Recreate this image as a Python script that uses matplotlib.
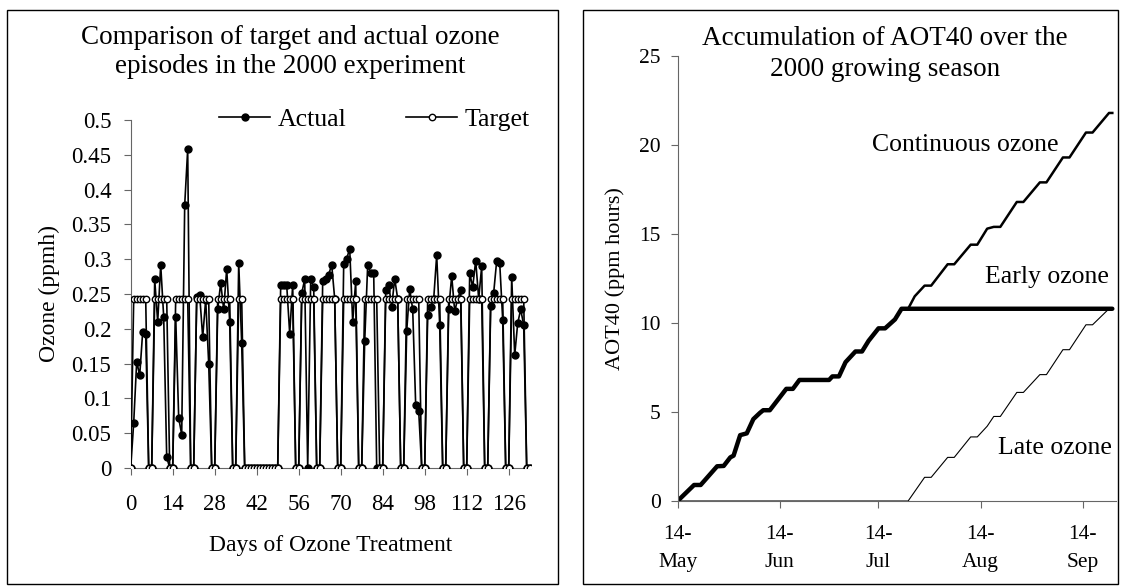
import numpy as np
import matplotlib.pyplot as plt
from matplotlib.patches import Rectangle
from matplotlib.ticker import FormatStrFormatter

plt.rcParams['font.family'] = ['Liberation Serif', 'DejaVu Serif']

W, H = 1122, 588

# ---- left panel: daily ozone (ppm h), days 0..133, one row per week ----
actual = [
    0, 0.065, 0.153, 0.133, 0.196, 0.193, 0,
    0, 0.271, 0.210, 0.292, 0.217, 0.016, 0,
    0, 0.217, 0.072, 0.048, 0.378, 0.458, 0,
    0, 0.245, 0.248, 0.188, 0.242, 0.150, 0,
    0, 0.228, 0.266, 0.228, 0.286, 0.210, 0,
    0, 0.295, 0.179, 0, 0, 0, 0,
    0, 0, 0, 0, 0, 0, 0,
    0, 0.263, 0.263, 0.263, 0.193, 0.263, 0,
    0, 0.251, 0.271, 0, 0.271, 0.260, 0,
    0, 0.268, 0.272, 0.278, 0.292, 0.243, 0,
    0, 0.293, 0.301, 0.315, 0.210, 0.268, 0,
    0, 0.182, 0.292, 0.280, 0.280, 0, 0,
    0, 0.256, 0.263, 0.232, 0.272, 0.243, 0,
    0, 0.197, 0.257, 0.228, 0.090, 0.082, 0,
    0, 0.220, 0.232, 0.243, 0.306, 0.205, 0,
    0, 0.228, 0.276, 0.225, 0.243, 0.256, 0,
    0, 0.280, 0.260, 0.298, 0.243, 0.290, 0,
    0, 0.233, 0.252, 0.298, 0.295, 0.213, 0,
    0, 0.275, 0.162, 0.208, 0.228, 0.205, 0,
    0,
]
target = [
    0, 0.243, 0.243, 0.243, 0.243, 0.243, 0,
    0, 0.243, 0.243, 0.243, 0.243, 0.243, 0,
    0, 0.243, 0.243, 0.243, 0.243, 0.243, 0,
    0, 0.243, 0.243, 0.243, 0.243, 0.243, 0,
    0, 0.243, 0.243, 0.243, 0.243, 0.243, 0,
    0, 0.243, 0.243, 0, 0, 0, 0,
    0, 0, 0, 0, 0, 0, 0,
    0, 0.243, 0.243, 0.243, 0.243, 0.243, 0,
    0, 0.243, 0.243, 0.243, 0.243, 0.243, 0,
    0, 0.243, 0.243, 0.243, 0.243, 0.243, 0,
    0, 0.243, 0.243, 0.243, 0.243, 0.243, 0,
    0, 0.243, 0.243, 0.243, 0.243, 0.243, 0,
    0, 0.243, 0.243, 0.243, 0.243, 0.243, 0,
    0, 0.243, 0.243, 0.243, 0.243, 0.243, 0,
    0, 0.243, 0.243, 0.243, 0.243, 0.243, 0,
    0, 0.243, 0.243, 0.243, 0.243, 0.243, 0,
    0, 0.243, 0.243, 0.243, 0.243, 0.243, 0,
    0, 0.243, 0.243, 0.243, 0.243, 0.243, 0,
    0, 0.243, 0.243, 0.243, 0.243, 0.243, 0,
    0,
]
day_ticks = [0, 14, 28, 42, 56, 70, 84, 98, 112, 126]

# ---- right panel: cumulative AOT40 (ppm hours), days after 14 May ----
cont_day = [0, 5, 7, 12, 14, 16, 17, 19, 21, 23, 25, 26, 28, 33, 35, 37, 46, 47,
            49, 51, 54, 56, 58, 61, 63, 66, 68, 70, 72, 75, 77, 82, 84, 89, 91,
            94, 96, 98, 103, 105, 110, 112, 117, 119, 124, 126, 131, 132]
cont_val = [0, 0.9, 0.9, 1.95, 1.97, 2.45, 2.55, 3.7, 3.8, 4.6, 4.95, 5.1, 5.1,
            6.3, 6.3, 6.8, 6.8, 7.0, 7.0, 7.8, 8.4, 8.4, 9.0, 9.7, 9.7, 10.2,
            10.8, 10.8, 11.5, 12.1, 12.1, 13.3, 13.3, 14.4, 14.4, 15.3, 15.4,
            15.4, 16.8, 16.8, 17.9, 17.9, 19.3, 19.3, 20.7, 20.7, 21.8, 21.8]
early_day = [0, 5, 7, 12, 14, 16, 17, 19, 21, 23, 25, 26, 28, 33, 35, 37, 46, 47,
             49, 51, 54, 56, 58, 61, 63, 66, 68, 132]
early_val = [0, 0.9, 0.9, 1.95, 1.97, 2.45, 2.55, 3.7, 3.8, 4.6, 4.95, 5.1, 5.1,
             6.3, 6.3, 6.8, 6.8, 7.0, 7.0, 7.8, 8.4, 8.4, 9.0, 9.7, 9.7, 10.2,
             10.8, 10.8]
late_day = [0, 70, 75, 77, 82, 84, 89, 91, 94, 96, 98, 103, 105, 110, 112, 117,
            119, 124, 126, 131, 132]
late_val = [0, 0, 1.33, 1.33, 2.45, 2.45, 3.6, 3.6, 4.2, 4.75, 4.75, 6.1, 6.1,
            7.1, 7.1, 8.5, 8.5, 9.9, 9.9, 10.8, 10.8]
month_ticks = [0, 31, 61, 92, 123]
month_labels = ['14-\nMay', '14-\nJun', '14-\nJul', '14-\nAug', '14-\nSep']


def fx(x):
    return x / W


def fy(y):
    return 1 - y / H


fig = plt.figure(figsize=(W / 100, H / 100), dpi=100)

# panel frames
for x0, x1 in [(7, 558), (583, 1118)]:
    fig.add_artist(Rectangle((fx(x0), fy(584)), fx(x1 - x0), (584 - 10) / H,
                             transform=fig.transFigure, fill=False,
                             edgecolor='black', linewidth=1.0))

axis_col = '#666666'

# ---------------- left ----------------
ax1 = fig.add_axes([fx(130.7), fy(468), fx(400.5), (468 - 120) / H])
days = np.arange(len(actual))
ax1.plot(days, actual, color='black', lw=1.2, marker='o', ms=5,
         mfc='black', mec='black', label='Actual', zorder=3)
ax1.plot(days, target, color='black', lw=1.2, marker='o', ms=4.6,
         mfc='white', mec='black', mew=1.0, label='Target', zorder=4)
ax1.set_xlim(0, 133.5)
ax1.set_ylim(0, 0.5)
ax1.set_xticks(day_ticks)
ax1.set_yticks(np.linspace(0, 0.5, 11))
ax1.yaxis.set_major_formatter(FormatStrFormatter('%g'))
ax1.set_xlabel('Days of Ozone Treatment', fontsize=17, labelpad=14)
ax1.set_ylabel('Ozone (ppmh)', fontsize=17, labelpad=8)
ax1.tick_params(axis='both', direction='out', length=5, width=0.8,
                color=axis_col, labelsize=16.5)
ax1.tick_params(axis='x', pad=14)
ax1.tick_params(axis='y', pad=9)
for s in ['top', 'right']:
    ax1.spines[s].set_visible(False)
for s in ['left', 'bottom']:
    ax1.spines[s].set_color(axis_col)
    ax1.spines[s].set_linewidth(0.8)
ax1.patch.set_alpha(0)

fig.legend(handles=ax1.get_lines(), loc='center left',
           bbox_to_anchor=(fx(219), fy(120)), ncol=2, frameon=False,
           fontsize=18.5, handlelength=2.0, handletextpad=0.3,
           columnspacing=2.3, borderpad=0, borderaxespad=0)
fig.text(fx(290), fy(52), 'Comparison of target and actual ozone\n'
         'episodes in the 2000 experiment', ha='center', va='center',
         fontsize=19.5, linespacing=1.25)

# ---------------- right ----------------
ax2 = fig.add_axes([fx(677.6), fy(501), fx(438), (501 - 56) / H])
ax2.plot(cont_day, cont_val, color='black', lw=1.8, solid_joinstyle='round')
ax2.plot(early_day, early_val, color='black', lw=3.2, solid_joinstyle='round',
         solid_capstyle='round')
ax2.plot(late_day, late_val, color='black', lw=0.8)
ax2.set_xlim(0, 133)
ax2.set_ylim(0, 25)
ax2.set_xticks(month_ticks)
ax2.set_xticklabels(month_labels, linespacing=1.65)
ax2.set_yticks([0, 5, 10, 15, 20, 25])
ax2.set_ylabel('AOT40 (ppm hours)', fontsize=16, labelpad=10)
ax2.tick_params(axis='both', direction='out', length=5, width=0.8,
                color=axis_col, labelsize=15.5)
ax2.tick_params(axis='x', pad=12)
ax2.tick_params(axis='y', pad=7)
for s in ['top', 'right']:
    ax2.spines[s].set_visible(False)
for s in ['left', 'bottom']:
    ax2.spines[s].set_color(axis_col)
    ax2.spines[s].set_linewidth(0.8)
ax2.patch.set_alpha(0)

ax2.text(115.6, 20.0, 'Continuous ozone', ha='right', va='center', fontsize=18.5)
ax2.text(131, 12.6, 'Early ozone', ha='right', va='center', fontsize=18.5)
ax2.text(132, 3.0, 'Late ozone', ha='right', va='center', fontsize=18.5)
fig.text(fx(885), fy(54), 'Accumulation of AOT40 over the\n'
         '2000 growing season', ha='center', va='center',
         fontsize=19.5, linespacing=1.35)

fig.savefig('out.png', dpi=100)
